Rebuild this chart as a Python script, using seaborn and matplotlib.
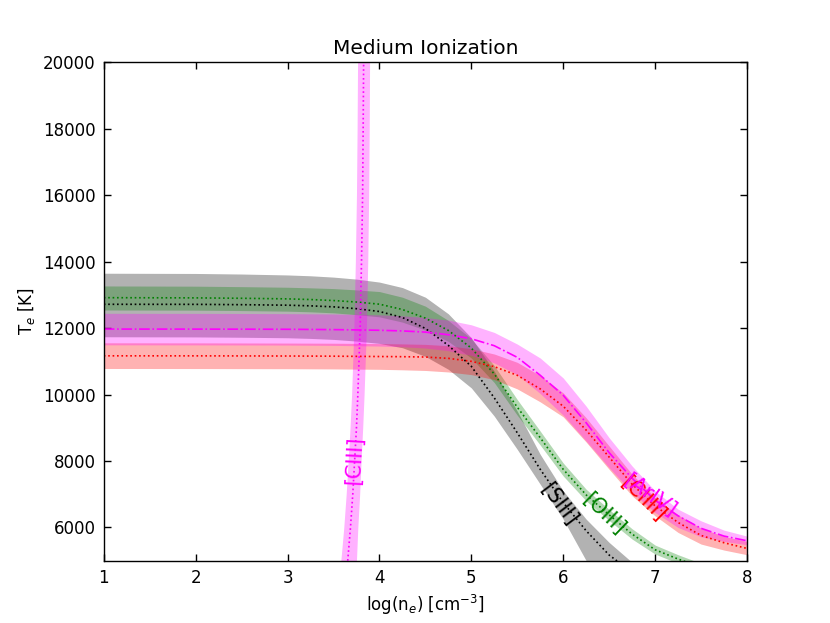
import numpy as np
import pandas as pd
import matplotlib
matplotlib.use("Agg")
import matplotlib.pyplot as plt
import seaborn as sns

# === Data ===
log_ne = [1, 2, 2.5, 3, 3.25, 3.5, 3.75, 4, 4.25, 4.5, 4.75, 5, 5.25, 5.5, 5.75, 6, 6.25, 6.5, 6.75, 7, 7.25, 7.5, 7.75, 8]

siii_mid = [12717, 12715, 12705, 12690, 12670, 12640, 12585, 12500, 12320, 11990, 11480, 10850, 9900, 8850, 7750, 6750, 5900, 5170, 4650, 4220, 3900, 3650, 3450, 3300]
siii_hi = [13652, 13645, 13628, 13600, 13575, 13535, 13475, 13385, 13220, 12930, 12430, 11710, 10700, 9500, 8200, 7100, 6250, 5550, 4950, 4500, 4150, 3880, 3670, 3500]
siii_lo = [11740, 11735, 11725, 11710, 11690, 11660, 11610, 11540, 11410, 11150, 10760, 10200, 9350, 8350, 7300, 6250, 5000, 4300, 3800, 3400, 3100, 2880, 2720, 2600]

oiii_mid = [12916, 12910, 12898, 12880, 12860, 12830, 12785, 12720, 12560, 12300, 11930, 11400, 10620, 9620, 8700, 7750, 6980, 6380, 5800, 5330, 5050, 4800, 4600, 4450]
oiii_hi = [13269, 13262, 13248, 13230, 13212, 13190, 13150, 13100, 12930, 12660, 12230, 11680, 10870, 9850, 8900, 7940, 7150, 6540, 5960, 5470, 5180, 4920, 4710, 4560]
oiii_lo = [12545, 12540, 12528, 12510, 12490, 12460, 12405, 12340, 12180, 11940, 11600, 11100, 10360, 9380, 8480, 7550, 6800, 6210, 5650, 5200, 4920, 4680, 4490, 4340]

ariv_mid = [11971, 11970, 11968, 11965, 11960, 11955, 11946, 11935, 11915, 11880, 11800, 11680, 11470, 11120, 10580, 9980, 9150, 8250, 7480, 6820, 6350, 5975, 5740, 5600]
ariv_hi = [12445, 12443, 12440, 12435, 12430, 12425, 12413, 12400, 12370, 12320, 12240, 12100, 11870, 11520, 11100, 10500, 9650, 8700, 7850, 7100, 6550, 6200, 5920, 5740]
ariv_lo = [11497, 11495, 11493, 11490, 11485, 11480, 11470, 11460, 11440, 11400, 11320, 11180, 10950, 10600, 10030, 9380, 8600, 7800, 7050, 6450, 6000, 5720, 5580, 5480]

cliii_mid = [11166, 11165, 11163, 11160, 11158, 11155, 11150, 11145, 11140, 11130, 11090, 11000, 10840, 10580, 10170, 9650, 8930, 8118, 7300, 6650, 6150, 5760, 5540, 5370]
cliii_hi = [11558, 11556, 11553, 11550, 11548, 11545, 11540, 11535, 11525, 11510, 11470, 11380, 11220, 10970, 10570, 10050, 9300, 8450, 7600, 6900, 6380, 5980, 5730, 5580]
cliii_lo = [10785, 10783, 10780, 10778, 10775, 10772, 10766, 10760, 10745, 10725, 10680, 10600, 10450, 10170, 9780, 9330, 8570, 7750, 6950, 6350, 5850, 5500, 5320, 5180]

# [CIII] is nearly vertical: log(ne) as a function of Te
ciii_te = [5000, 6000, 7000, 8000, 9000, 10000, 12000, 14000, 16000, 18000, 20000]
ciii_mid = [3.655, 3.685, 3.71, 3.73, 3.75, 3.765, 3.79, 3.805, 3.817, 3.823, 3.828]
ciii_lo = [3.58, 3.612, 3.638, 3.66, 3.68, 3.697, 3.722, 3.738, 3.75, 3.757, 3.762]
ciii_hi = [3.75, 3.765, 3.785, 3.80, 3.818, 3.833, 3.858, 3.873, 3.883, 3.889, 3.893]

df = pd.DataFrame({"log_ne": log_ne, "SIII": siii_mid, "OIII": oiii_mid,
                   "ArIV": ariv_mid, "ClIII": cliii_mid})

BLACK, GREEN, RED, MAGENTA = "#000000", "#008000", "#ff0000", "#ff00ff"

# === Plot ===
sns.set_style("ticks")
plt.rcParams["font.family"] = ["DejaVu Sans"]
fig, ax = plt.subplots(figsize=(8.3, 6.23), dpi=100)
fig.subplots_adjust(left=0.125, right=0.9, bottom=0.1, top=0.9)

ax.fill_between(log_ne, siii_lo, siii_hi, color=BLACK, alpha=0.3, lw=0)
ax.fill_between(log_ne, oiii_lo, oiii_hi, color=GREEN, alpha=0.3, lw=0)
ax.fill_between(log_ne, cliii_lo, cliii_hi, color=RED, alpha=0.3, lw=0)
ax.fill_between(log_ne, ariv_lo, ariv_hi, color=MAGENTA, alpha=0.3, lw=0)
ax.fill_betweenx(ciii_te, ciii_lo, ciii_hi, color=MAGENTA, alpha=0.3, lw=0)

sns.lineplot(data=df, x="log_ne", y="SIII", ax=ax, color=BLACK, ls=":", lw=1.2)
sns.lineplot(data=df, x="log_ne", y="OIII", ax=ax, color=GREEN, ls=":", lw=1.2)
sns.lineplot(data=df, x="log_ne", y="ClIII", ax=ax, color=RED, ls=":", lw=1.2)
sns.lineplot(data=df, x="log_ne", y="ArIV", ax=ax, color=MAGENTA, ls="-.", lw=1.2)
sns.lineplot(x=ciii_mid, y=ciii_te, ax=ax, color=MAGENTA, ls=":", lw=1.2, sort=False, estimator=None)

ax.text(3.73, 8020, "[CIII]", color=MAGENTA, rotation=87, ha="center", va="center", fontsize=15)
ax.text(5.955, 6690, "[SIII]", color=BLACK, rotation=-53, ha="center", va="center", fontsize=15)
ax.text(6.445, 6408, "[OIII]", color=GREEN, rotation=-44, ha="center", va="center", fontsize=15)
ax.text(6.87, 6862, "[ClIII]", color=RED, rotation=-45, ha="center", va="center", fontsize=15)
ax.text(6.94, 6962, "[ArIV]", color=MAGENTA, rotation=-35, ha="center", va="center", fontsize=15)

ax.set_xlim(1, 8)
ax.set_ylim(5000, 20000)
ax.set_xticks(range(1, 9))
ax.set_yticks(range(6000, 20001, 2000))
ax.tick_params(direction="in", top=True, right=True, length=5, width=1, labelsize=12, pad=6,
               colors="k")
for sp in ax.spines.values():
    sp.set_linewidth(1)
    sp.set_color("k")
ax.set_xlabel(r"log(n$_e$) [cm$^{-3}$]", fontsize=12, color="k")
ax.set_ylabel(r"T$_e$ [K]", fontsize=12, color="k")
ax.set_title("Medium Ionization", fontsize=14.5, color="k")

fig.savefig("out.png", dpi=100, facecolor="white")
